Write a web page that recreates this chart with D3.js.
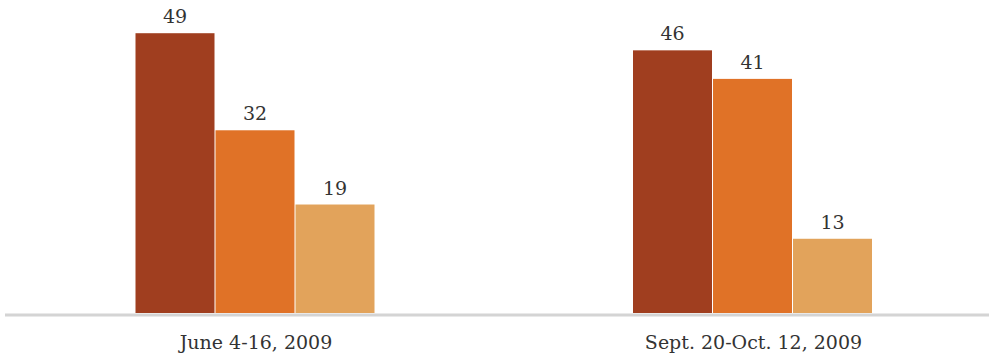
<!DOCTYPE html>
<html>
<head>
<meta charset="utf-8">
<script src="https://cdn.jsdelivr.net/npm/d3@7"></script>
<style>
  html, body { margin: 0; padding: 0; background: #fff; }
  svg { display: block; }
  text { font-family: "DejaVu Serif", "Liberation Serif", Georgia, serif; fill: #333; }
</style>
</head>
<body>
<svg id="chart" width="989" height="358"></svg>
<script>
// Survey periods and the three response shares for each
const periods = ["June 4-16, 2009", "Sept. 20-Oct. 12, 2009"];
const seriesKeys = ["a", "b", "c"];
const seriesA = [49, 46];
const seriesB = [32, 41];
const seriesC = [19, 13];
const seriesColors = ["#A03E1F", "#E07227", "#E2A35B"];

const svg = d3.select("#chart");
const baseY = 313;

const rows = periods.map((p, i) => ({
  period: p,
  values: [seriesA[i], seriesB[i], seriesC[i]]
}));

// Group centres and bars inside each group
const x0 = d3.scalePoint().domain(periods).range([255.5, 753]);
const x1 = d3.scaleBand().domain(seriesKeys).range([-120, 120]).paddingInner(0);
const y = d3.scaleLinear().domain([0, 50]).range([baseY, baseY - 50 * 5.71]);

const groups = svg.selectAll("g.grp")
  .data(rows)
  .join("g")
  .attr("class", "grp")
  .attr("transform", d => `translate(${x0(d.period)},0)`);

groups.selectAll("rect")
  .data(d => d.values.map((v, j) => ({ key: seriesKeys[j], v, j })))
  .join("rect")
  .attr("x", d => x1(d.key))
  .attr("width", x1.bandwidth() - 1)
  .attr("y", d => y(d.v))
  .attr("height", d => y(0) - y(d.v))
  .attr("fill", d => seriesColors[d.j]);

groups.selectAll("text.val")
  .data(d => d.values.map((v, j) => ({ key: seriesKeys[j], v, j })))
  .join("text")
  .attr("class", "val")
  .attr("x", d => x1(d.key) + (x1.bandwidth() - 1) / 2)
  .attr("y", d => y(d.v) - 10)
  .attr("text-anchor", "middle")
  .style("font-size", "19px")
  .text(d => d.v);

// Baseline
svg.append("line")
  .attr("x1", 5).attr("x2", 989)
  .attr("y1", baseY + 2).attr("y2", baseY + 2)
  .attr("stroke", "#d4d4d4")
  .attr("stroke-width", 3);

// Category axis labels
const axis = d3.axisBottom(x0).tickSize(0).tickPadding(0);
const ax = svg.append("g").attr("transform", `translate(0,${baseY})`).call(axis);
ax.select(".domain").remove();
ax.selectAll("text")
  .attr("y", 36)
  .attr("dy", 0)
  .style("font-size", "19px")
  .style("font-family", "\"DejaVu Serif\", serif")
  .attr("fill", "#333");
</script>
</body>
</html>
